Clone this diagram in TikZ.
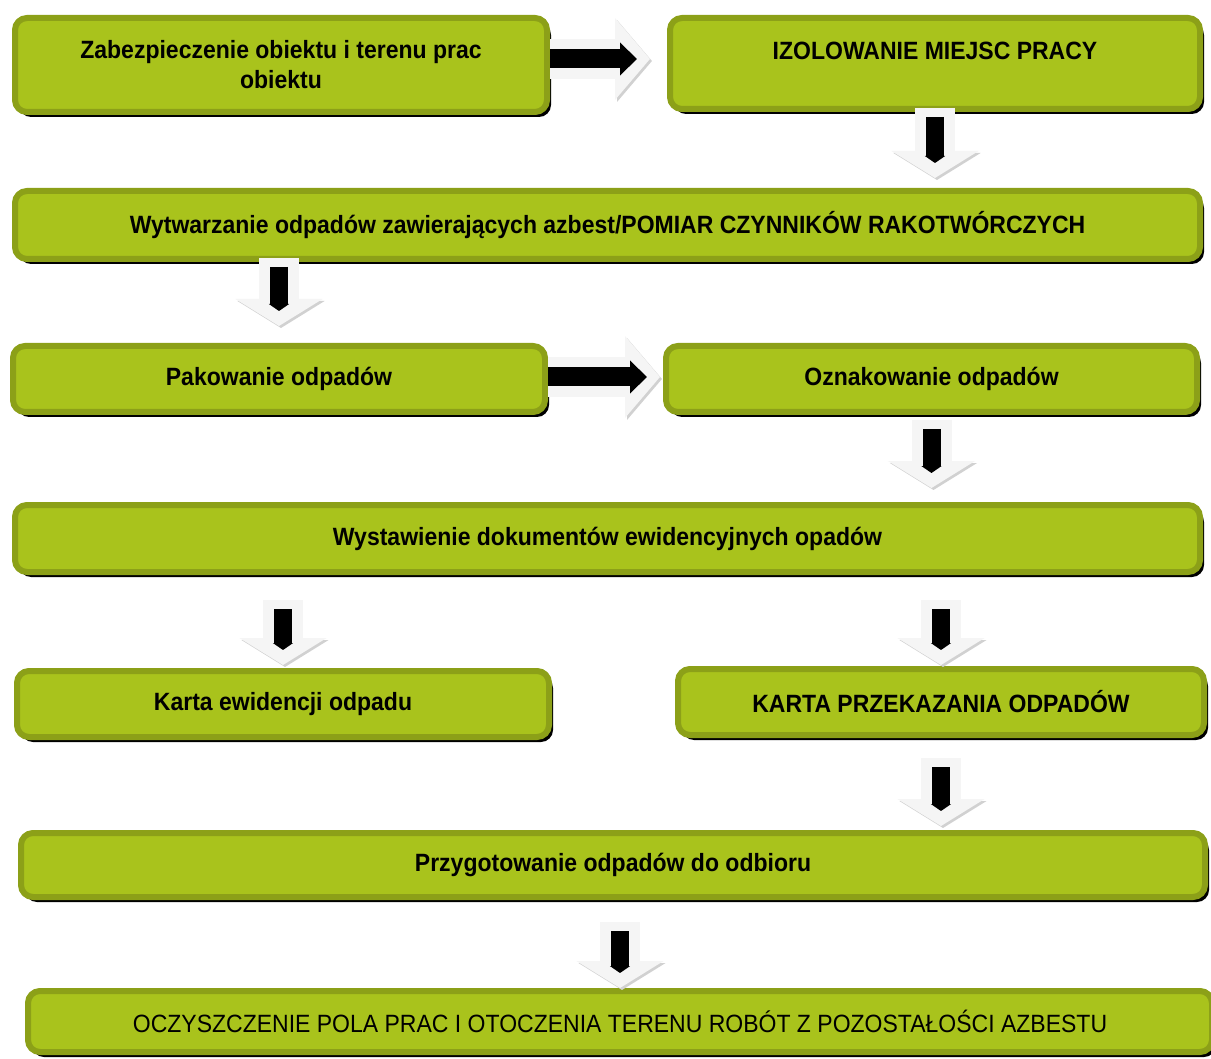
\documentclass[tikz,border=0pt]{standalone}
\usepackage{fontspec}
\setmainfont{Liberation Sans}[FakeStretch=0.92]
\usetikzlibrary{arrows.meta,shadows}
\definecolor{boxfill}{HTML}{A9C31C}
\definecolor{boxline}{HTML}{8CA018}
\tikzset{
  stepbox/.style={draw=boxline,fill=boxfill,line width=6pt,rounded corners=12pt,
    align=center,inner sep=0pt,font=\fontsize{25}{30}\selectfont\bfseries,
    drop shadow={shadow xshift=4pt,shadow yshift=-5pt,fill=black,opacity=1}},
  blockarrow/.style={line width=40pt,draw=black!4,-{Triangle[width=86pt,length=27pt]},
    preaction={draw=black!18,transform canvas={xshift=2pt,yshift=-2pt}},
    postaction={draw=black,line width=18pt,shorten <=9pt,shorten >=15pt,
      -{Triangle[width=20pt,length=7pt]}}},
  sidearrow/.style={line width=40pt,draw=black!4,-{Triangle[width=80pt,length=35pt]},
    preaction={draw=black!18,transform canvas={xshift=2pt,yshift=-2pt}},
    postaction={draw=black,line width=19pt,shorten >=13pt,
      -{Triangle[width=32pt,length=17pt]}}}
}
\begin{document}
\begin{tikzpicture}[x=1pt,y=-1pt]
  \useasboundingbox[fill=white] (0,0) rectangle (1211,1059);
  % boxes
  \node[stepbox,minimum width=532pt,minimum height=94pt] (zabezp) at (281,65)
    {Zabezpieczenie obiektu i terenu prac\\obiektu};
  \node[stepbox,minimum width=530pt,minimum height=91pt,text depth=26pt] (izol) at (935,63.5)
    {IZOLOWANIE MIEJSC PRACY};
  \node[stepbox,minimum width=1185pt,minimum height=68pt] (wytw) at (607.5,225)
    {Wytwarzanie odpadów zawierających azbest/POMIAR CZYNNIKÓW RAKOTWÓRCZYCH};
  \node[stepbox,minimum width=532pt,minimum height=66pt] (pak) at (279,379)
    {Pakowanie odpadów};
  \node[stepbox,minimum width=531pt,minimum height=66pt] (oznak) at (931.5,379)
    {Oznakowanie odpadów};
  \node[stepbox,minimum width=1185pt,minimum height=67pt] (wyst) at (607.5,538.5)
    {Wystawienie dokumentów ewidencyjnych opadów};
  \node[stepbox,minimum width=532pt,minimum height=66pt] (karta) at (283,704)
    {Karta ewidencji odpadu};
  \node[stepbox,minimum width=526pt,minimum height=66pt] (kpo) at (941,702)
    {KARTA PRZEKAZANIA ODPADÓW};
  \node[stepbox,minimum width=1184pt,minimum height=64pt] (przyg) at (613,865)
    {Przygotowanie odpadów do odbioru};
  \node[stepbox,minimum width=1184pt,minimum height=61pt,font=\fontsize{25}{30}\selectfont] (oczysz) at (620,1021.5)
    {OCZYSZCZENIE POLA PRAC I OTOCZENIA TERENU ROBÓT Z POZOSTAŁOŚCI AZBESTU};
  % arrows
  \draw[sidearrow] ([yshift=6pt]zabezp.east) -- ([yshift=6pt,xshift=-17pt]zabezp.east -| izol.west);
  \draw[blockarrow] ([yshift=4pt]izol.south) -- ([yshift=10pt]wytw.north -| izol.south);
  \draw[blockarrow] ([yshift=4pt]wytw.south -| pak.north) -- ([yshift=17pt]pak.north);
  \draw[sidearrow] ([yshift=2pt]pak.east) -- ([yshift=2pt,xshift=-3pt]pak.east -| oznak.west);
  \draw[blockarrow] ([yshift=-5pt]oznak.south) -- ([yshift=14pt]wyst.north -| oznak.south);
  \draw[blockarrow] ([yshift=-25pt]wyst.south -| karta.north) -- ([yshift=3pt]karta.north);
  \draw[blockarrow] ([yshift=-25pt]wyst.south -| kpo.north) -- ([yshift=1pt]kpo.north);
  \draw[blockarrow] ([yshift=-20pt]kpo.south) -- ([yshift=4pt]przyg.north -| kpo.south);
  \draw[blockarrow] ([yshift=-22pt]przyg.south -| oczysz.north) -- (oczysz.north);
\end{tikzpicture}
\end{document}
